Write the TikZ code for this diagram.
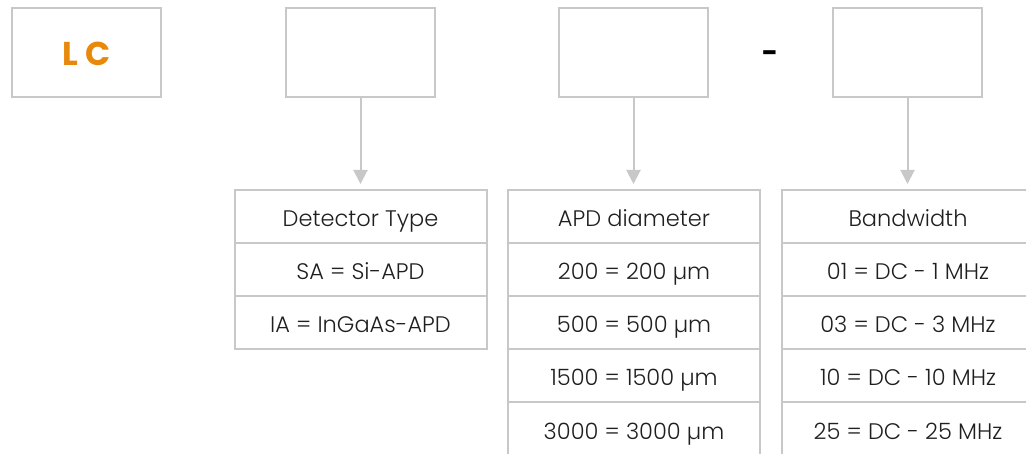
\documentclass[tikz,border=0pt]{standalone}
\usepackage{fontspec}
\setmainfont{Poppins Light}[BoldFont=Poppins Bold]
\usetikzlibrary{positioning,arrows.meta}

\definecolor{framegray}{HTML}{C8C8C8}
\definecolor{codeorange}{HTML}{E8890C}

\tikzset{
  field/.style={draw=framegray, line width=2pt, outer sep=0pt, minimum width=149pt, minimum height=89pt},
  cell/.style={draw=framegray, line width=2pt, outer sep=0pt, inner sep=0pt,
    minimum width=252pt, minimum height=53pt, text=black!88,
    text height=21pt, text depth=0pt,
    font=\fontsize{22.5}{24}\selectfont},
  feed/.style={draw=framegray, line width=2pt, -{Triangle[width=14pt,length=14pt]}, shorten >=6pt}
}

\begin{document}
\begin{tikzpicture}[x=1pt, y=-1pt]
    \useasboundingbox (0,0) rectangle (1026,454);
    \clip (0,0) rectangle (1026,454);

    % the code fields
    \node[field, text=codeorange, text height=27pt, text depth=0pt,
      font=\fontsize{33}{35}\selectfont\bfseries] (prefix) at (86.5,52.5) {L C};
    \node[field] (type) at (360.5,52.5) {};
    \node[field] (diam) at (633.5,52.5) {};
    \node[font=\fontsize{28}{30}\selectfont\bfseries] (dash) at (770,57) {-};
    \node[field] (band) at (907.5,52.5) {};

    % detector type table
    \node[cell] (typehead) at (360.5,216.5) {Detector Type};
    \node[cell, below=0pt of typehead] (type1) {SA = Si-APD};
    \node[cell, below=0pt of type1] (type2) {IA = InGaAs-APD};

    % diameter table
    \node[cell] (diamhead) at (634,216.5) {APD diameter};
    \node[cell, below=0pt of diamhead] (diam1) {200 = 200 µm};
    \node[cell, below=0pt of diam1] (diam2) {500 = 500 µm};
    \node[cell, below=0pt of diam2] (diam3) {1500 = 1500 µm};
    \node[cell, below=0pt of diam3] (diam4) {3000 = 3000 µm};

    % bandwidth table
    \node[cell] (bandhead) at (908,216.5) {Bandwidth};
    \node[cell, below=0pt of bandhead] (band1) {01 = DC - 1 MHz};
    \node[cell, below=0pt of band1] (band2) {03 = DC - 3 MHz};
    \node[cell, below=0pt of band2] (band3) {10 = DC - 10 MHz};
    \node[cell, below=0pt of band3] (band4) {25 = DC - 25 MHz};

    % draw the arrows
    \draw[feed] (type.south) -- (type.south |- typehead.north);
    \draw[feed] (diam.south) -- (diam.south |- diamhead.north);
    \draw[feed] (band.south) -- (band.south |- bandhead.north);
\end{tikzpicture}
\end{document}
